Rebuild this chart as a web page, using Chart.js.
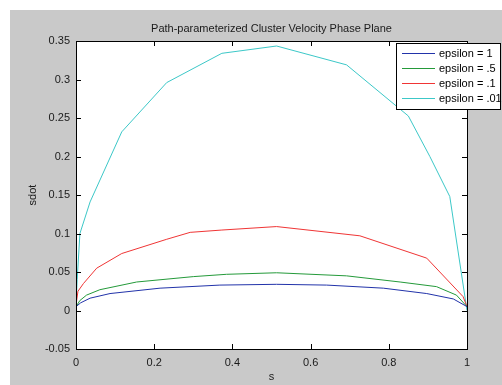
<!DOCTYPE html>
<html>
<head>
<meta charset="utf-8">
<script src="https://cdn.jsdelivr.net/npm/chart.js@4"></script>
<style>
  body { margin: 0; background: #fff; }
  canvas { display: block; }
</style>
</head>
<body>
<canvas id="phase" width="502" height="385"></canvas>
<script>
// Values
const seriesLabels = ['epsilon = 1', 'epsilon = .5', 'epsilon = .1', 'epsilon = .01'];
const seriesColors = ['#2233aa', '#249a3a', '#f03535', '#3cc8c8'];

const sEps1 = [0, 0.012, 0.036, 0.087, 0.215, 0.368, 0.513, 0.641, 0.786, 0.897, 0.965, 1];
const sdotEps1 = [0.005, 0.010, 0.016, 0.022, 0.029, 0.033, 0.034, 0.033, 0.029, 0.022, 0.015, 0.005];

const sEps05 = [0, 0.010, 0.027, 0.061, 0.155, 0.3, 0.385, 0.513, 0.692, 0.829, 0.922, 0.973, 1];
const sdotEps05 = [0.005, 0.013, 0.020, 0.027, 0.037, 0.044, 0.047, 0.049, 0.045, 0.037, 0.031, 0.020, 0.005];

const sEps01 = [0, 0.005, 0.019, 0.053, 0.117, 0.232, 0.292, 0.373, 0.513, 0.726, 0.897, 0.99, 1];
const sdotEps01 = [0.007, 0.025, 0.035, 0.055, 0.074, 0.0925, 0.1015, 0.1045, 0.109, 0.097, 0.068, 0.018, 0.005];

const sEps001 = [0, 0.003, 0.01, 0.036, 0.117, 0.232, 0.373, 0.513, 0.692, 0.85, 0.905, 0.956, 1];
const sdotEps001 = [0.005, 0.04, 0.1, 0.141, 0.232, 0.296, 0.334, 0.3435, 0.319, 0.2526, 0.2, 0.148, 0.0];

const sList = [sEps1, sEps05, sEps01, sEps001];
const sdotList = [sdotEps1, sdotEps05, sdotEps01, sdotEps001];

const FONT = "11px 'Liberation Sans', Arial, sans-serif";

// Draw figure background, the box, inward ticks, title, axis labels and legend
const matlabLook = {
    id: 'matlabLook',
    beforeDraw(chart) {
        const ctx = chart.ctx;
        const a = chart.chartArea;
        ctx.save();
        ctx.fillStyle = '#ffffff';
        ctx.fillRect(0, 0, chart.width, chart.height);
        ctx.fillStyle = '#c9c9c9';
        ctx.fillRect(10, 10, chart.width - 10, chart.height - 10);
        ctx.fillStyle = '#ffffff';
        ctx.fillRect(a.left, a.top, a.right - a.left, a.bottom - a.top);
        ctx.restore();
    },
    afterDraw(chart) {
        const ctx = chart.ctx;
        const a = chart.chartArea;
        const xs = chart.scales.x;
        const ys = chart.scales.y;
        ctx.save();
        ctx.strokeStyle = '#000';
        ctx.lineWidth = 1;
        ctx.strokeRect(a.left + 0.5, a.top + 0.5, a.right - a.left, a.bottom - a.top);

        ctx.beginPath();
        xs.ticks.forEach(t => {
            const px = Math.round(xs.getPixelForValue(t.value)) + 0.5;
            ctx.moveTo(px, a.bottom); ctx.lineTo(px, a.bottom - 5);
            ctx.moveTo(px, a.top); ctx.lineTo(px, a.top + 5);
        });
        ys.ticks.forEach(t => {
            const py = Math.round(ys.getPixelForValue(t.value)) + 0.5;
            ctx.moveTo(a.left, py); ctx.lineTo(a.left + 5, py);
            ctx.moveTo(a.right, py); ctx.lineTo(a.right - 5, py);
        });
        ctx.stroke();

        ctx.fillStyle = '#1a1a1a';
        ctx.font = FONT;
        ctx.textAlign = 'center';
        ctx.textBaseline = 'middle';
        ctx.fillText('Path-parameterized Cluster Velocity Phase Plane', (a.left + a.right) / 2, 29);
        ctx.fillText('s', (a.left + a.right) / 2, 377);
        ctx.save();
        ctx.translate(33, (a.top + a.bottom) / 2);
        ctx.rotate(-Math.PI / 2);
        ctx.fillText('sdot', 0, 0);
        ctx.restore();

        // legend box
        const lx = 396, ly = 43, lw = 104, lh = 66;
        ctx.fillStyle = '#fff';
        ctx.fillRect(lx, ly, lw, lh);
        ctx.strokeStyle = '#000';
        ctx.strokeRect(lx + 0.5, ly + 0.5, lw, lh);
        chart.data.datasets.forEach((ds, i) => {
            const y = 53.5 + i * 15;
            ctx.strokeStyle = ds.borderColor;
            ctx.beginPath();
            ctx.moveTo(402, y); ctx.lineTo(435, y);
            ctx.stroke();
            ctx.fillStyle = '#000';
            ctx.textAlign = 'left';
            ctx.fillText(ds.label, 439, y);
        });
        ctx.restore();
    }
};

const datasets = seriesLabels.map((label, i) => ({
    label: label,
    data: sList[i].map((s, j) => ({ x: s, y: sdotList[i][j] })),
    borderColor: seriesColors[i],
    borderWidth: 1,
    pointRadius: 0,
    tension: 0,
    fill: false
}));

new Chart(document.getElementById('phase'), {
    type: 'line',
    data: { datasets: datasets },
    options: {
        responsive: false,
        animation: false,
        layout: { padding: { top: 41, right: 35, left: 0, bottom: 0 } },
        plugins: {
            legend: { display: false },
            tooltip: { enabled: false }
        },
        scales: {
            x: {
                type: 'linear',
                min: 0,
                max: 1,
                grid: { display: false, drawTicks: false },
                border: { display: false },
                ticks: {
                    stepSize: 0.2,
                    padding: 7,
                    maxRotation: 0,
                    color: '#1a1a1a',
                    font: { family: "'Liberation Sans', Arial, sans-serif", size: 11 },
                    callback: v => String(Math.round(v * 10) / 10)
                },
                afterFit: scale => { scale.height = 36; }
            },
            y: {
                min: -0.05,
                max: 0.35,
                grid: { display: false, drawTicks: false },
                border: { display: false },
                ticks: {
                    stepSize: 0.05,
                    padding: 6,
                    color: '#1a1a1a',
                    font: { family: "'Liberation Sans', Arial, sans-serif", size: 11 },
                    callback: v => String(Math.round(v * 100) / 100)
                },
                afterFit: scale => { scale.width = 76; }
            }
        }
    },
    plugins: [matlabLook]
});
</script>
</body>
</html>
